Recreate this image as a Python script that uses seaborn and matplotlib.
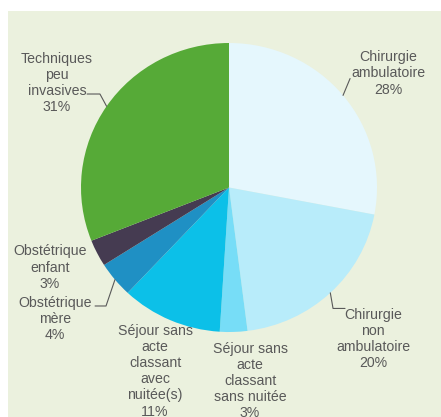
import matplotlib
matplotlib.use("Agg")
import matplotlib.pyplot as plt
import seaborn as sns
import numpy as np

# Répartition des séjours par activité
categories = [
    "Chirurgie\nambulatoire",
    "Chirurgie\nnon\nambulatoire",
    "Séjour sans\nacte\nclassant\nsans nuitée",
    "Séjour sans\nacte\nclassant\navec\nnuitée(s)",
    "Obstétrique\nmère",
    "Obstétrique\nenfant",
    "Techniques\npeu\ninvasives",
]
shares = [28, 20, 3, 11, 4, 3, 31]
colors = ["#e5f7fd", "#b8ecfa", "#77ddf7", "#0cc0e8", "#1f90c4", "#453b51", "#56aa37"]

# label centres, in pie-radius units
label_pos = [
    (1.074, 0.789),
    (0.973, -1.048),
    (0.142, -1.339),
    (-0.50, -1.27),
    (-1.176, -0.91),
    (-1.209, -0.554),
    (-1.162, 0.723),
]
# leader lines (text end points, elbow), None when no leader is drawn
leaders = [
    [(0.818, 0.754)],
    [(0.703, -0.837), (0.784, -0.837)],
    None,
    None,
    [(-0.831, -0.820), (-0.905, -0.820)],
    None,
    [(-0.872, 0.647), (-0.959, 0.647)],
]

sns.set_style("white")
plt.rcParams["font.family"] = ["Liberation Sans", "DejaVu Sans"]

W, H = 441, 417
fig = plt.figure(figsize=(W / 100, H / 100), dpi=100)
fig.patch.set_facecolor("white")

# light green panel
panel = plt.Rectangle((7.5 / W, 0), 1, 1 - 10.5 / H, transform=fig.transFigure,
                      facecolor="#ebf1de", edgecolor="none", zorder=-10)
fig.patches.append(panel)

cx, cy, rx, ry = 229, 187.5, 148, 144.5
ax = fig.add_axes([(cx - rx) / W, (H - cy - ry) / H, 2 * rx / W, 2 * ry / H])
ax.set_zorder(1)
ax.set_facecolor("none")

wedges, _ = ax.pie(shares, colors=colors, startangle=90, counterclock=False,
                   radius=1, center=(0, 0), frame=False,
                   wedgeprops=dict(linewidth=0, edgecolor="none"))
ax.set_xlim(-1, 1)
ax.set_ylim(-1, 1)
ax.set_aspect("auto")
ax.axis("off")

text_color = "#595959"
for w, cat, val, (lx, ly), ld in zip(wedges, categories, shares, label_pos, leaders):
    ax.text(lx, ly, f"{cat}\n{val}%", ha="center", va="center", fontsize=10.2,
            color=text_color, linespacing=1.2, clip_on=False)
    if ld is not None:
        mid = np.deg2rad((w.theta1 + w.theta2) / 2)
        pts = [(np.cos(mid), np.sin(mid))] + ld
        xs, ys = zip(*pts)
        ax.plot(xs, ys, color=text_color, linewidth=0.8, clip_on=False)

fig.savefig("out.png", dpi=100, facecolor=fig.get_facecolor())
